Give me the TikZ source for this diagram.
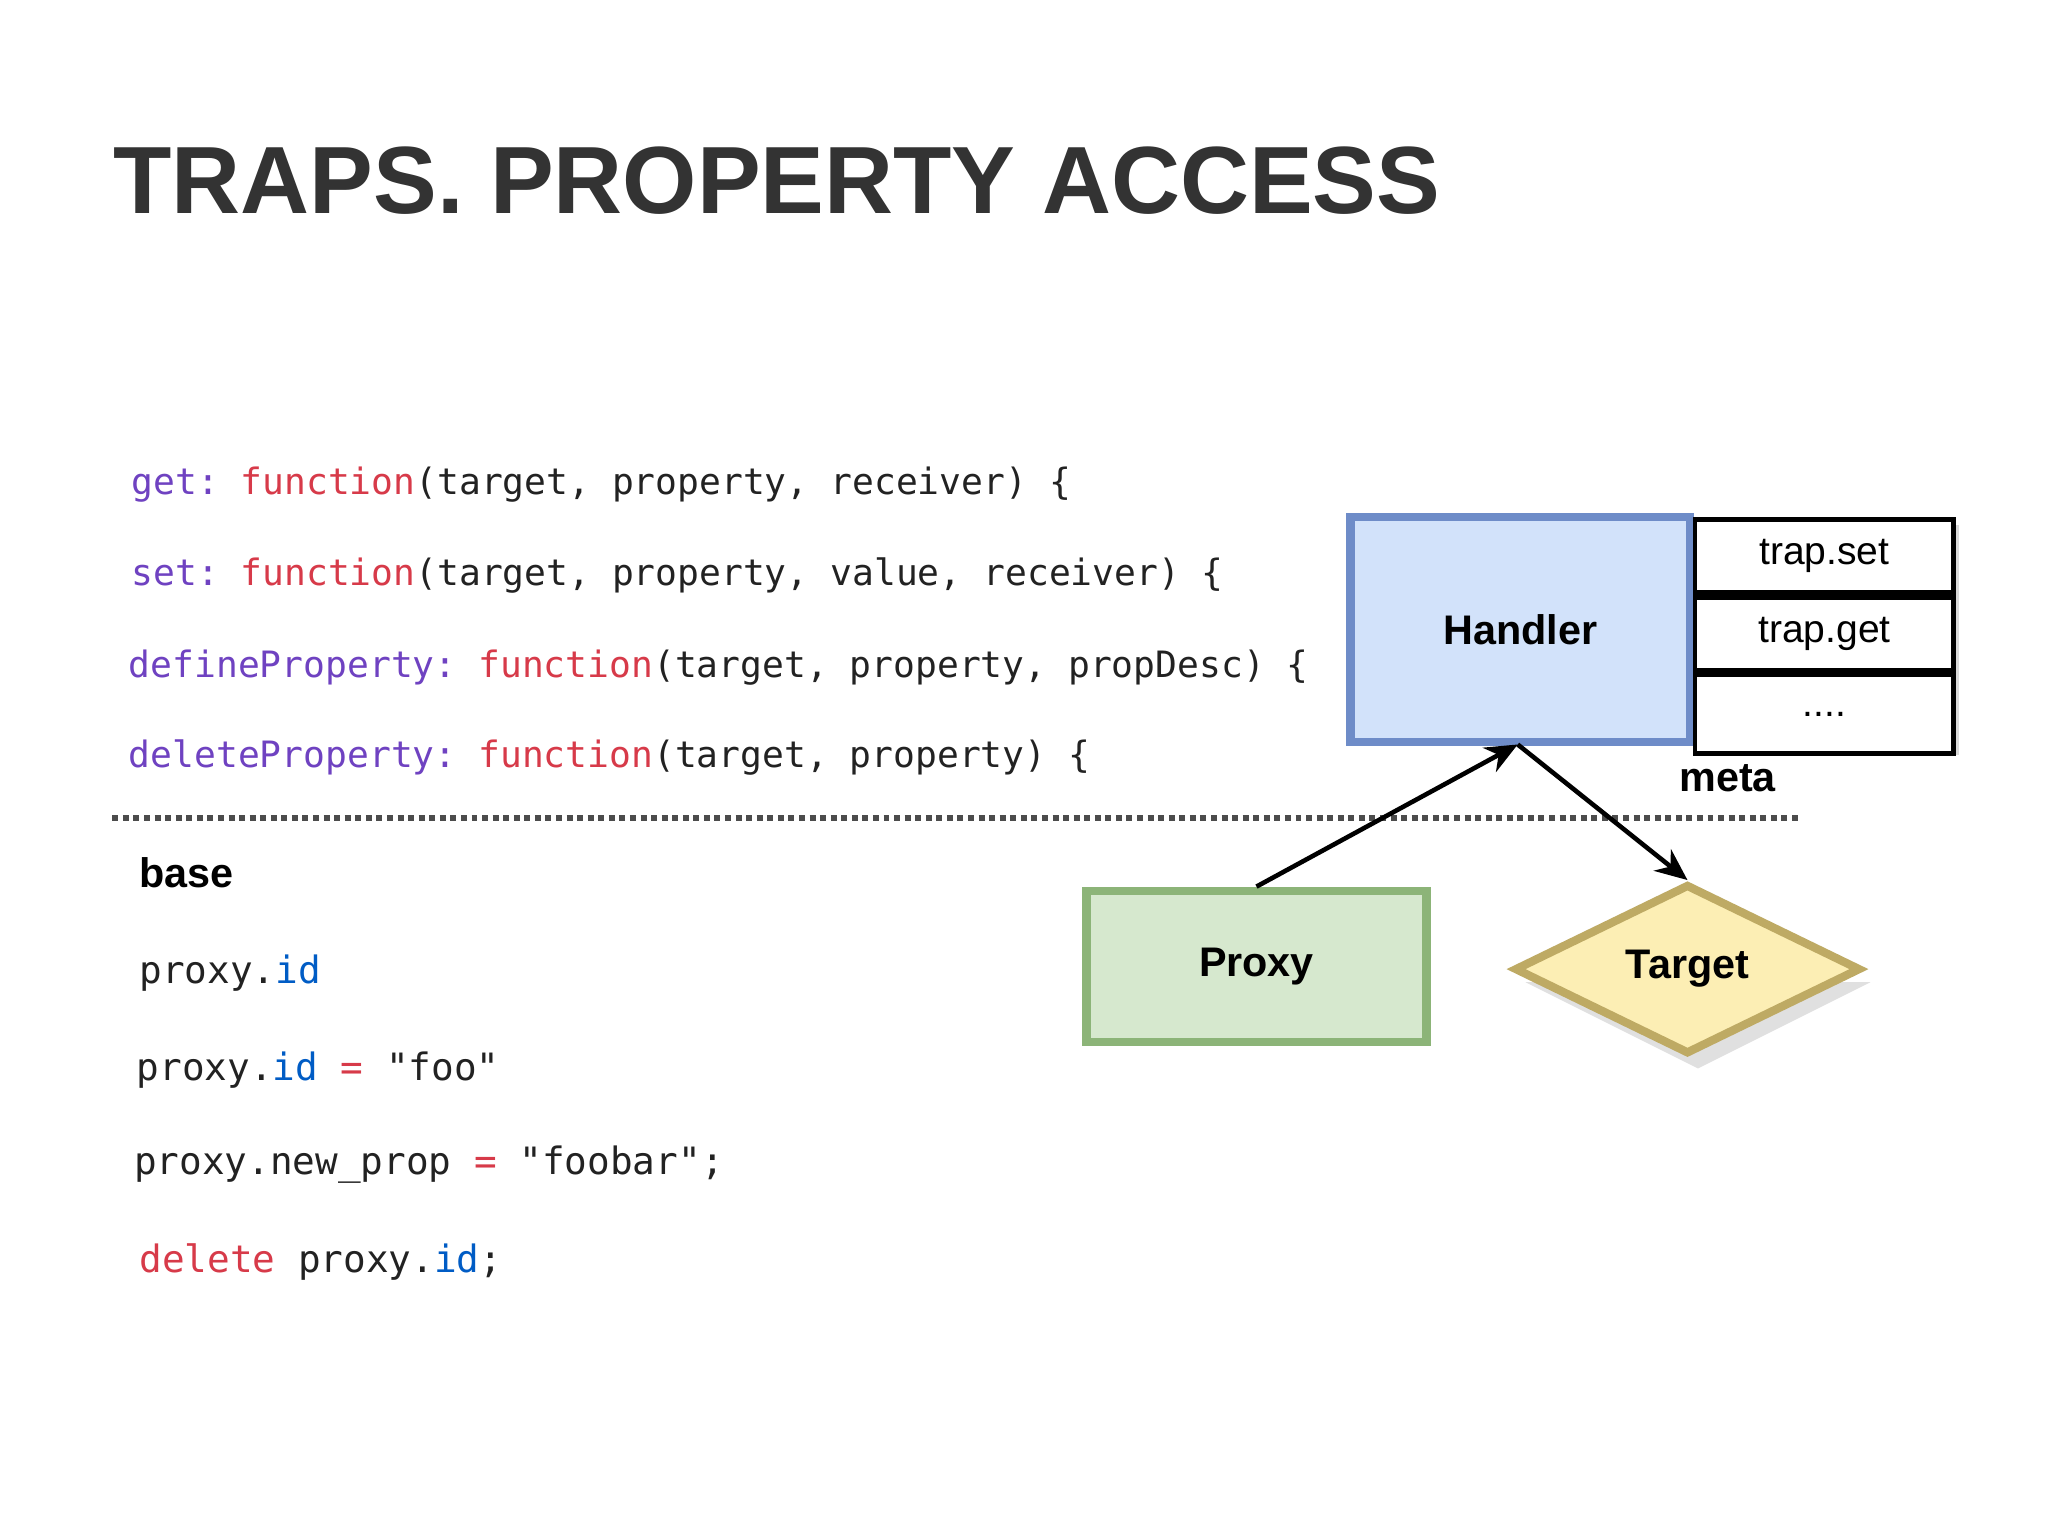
\documentclass[tikz,border=0pt]{standalone}
\usepackage{fontspec}
\setmainfont{Liberation Sans}
\setmonofont{DejaVu Sans Mono}
\usetikzlibrary{shapes.geometric,arrows.meta}
\definecolor{kw}{HTML}{6F42C1}
\definecolor{fn}{HTML}{D73A49}
\definecolor{idc}{HTML}{005CC5}
\definecolor{tc}{HTML}{222222}
\tikzset{
 code/.style={anchor=west,font=\ttfamily\fontsize{7.9pt}{9pt}\selectfont,text=tc,inner sep=0pt},
 codeb/.style={code,font=\ttfamily\fontsize{8.2pt}{9pt}\selectfont},
 lbl/.style={font=\bfseries\fontsize{9pt}{10pt}\selectfont,text=black},
 slot/.style={draw=black,line width=1pt,minimum width=1.98cm,minimum height=0.56cm,font=\fontsize{8.5pt}{10pt}\selectfont,inner sep=0pt},
 arr/.style={-{Stealth[length=7pt,width=6pt]},line width=1pt}
}
\begin{document}
\begin{tikzpicture}[x=0.01cm,y=-0.01cm]
\useasboundingbox[fill=white] (0,0) rectangle (1568,1176);
\node[anchor=west,font=\bfseries\fontsize{20.8pt}{24pt}\selectfont,text=black!80,inner sep=0pt] (title) at (86,138) {TRAPS. PROPERTY ACCESS};
\node[code] (c1) at (100,371) {\textcolor{kw}{get:} \textcolor{fn}{function}(target, property, receiver) \{};
\node[code] (c2) at (100,441) {\textcolor{kw}{set:} \textcolor{fn}{function}(target, property, value, receiver) \{};
\node[code] (c3) at (98,511) {\textcolor{kw}{defineProperty:} \textcolor{fn}{function}(target, property, propDesc) \{};
\node[code] (c4) at (98,580) {\textcolor{kw}{deleteProperty:} \textcolor{fn}{function}(target, property) \{};
\draw[densely dotted,line width=1.3pt,black!70] (86,626) -- (1378,626);
\node[anchor=west,lbl,inner sep=0pt] (base) at (106,668) {base};
\node[anchor=west,lbl,inner sep=0pt] (meta) at (1285,596) {meta};
\node[codeb] (p1) at (106,745) {proxy.\textcolor{idc}{id}};
\node[codeb] (p2) at (104,819) {proxy.\textcolor{idc}{id} \textcolor{fn}{=} "foo"};
\node[codeb] (p3) at (102,892) {proxy.new\_prop \textcolor{fn}{=} "foobar";};
\node[codeb] (p4) at (106,966) {\textcolor{fn}{delete} proxy.\textcolor{idc}{id};};
% handler
\fill[black!15] (1300,402) rectangle (1500,578);
\node[draw={rgb,255:red,110;green,140;blue,200},fill={rgb,255:red,210;green,226;blue,250},line width=1.8pt,minimum width=2.6cm,minimum height=1.72cm,lbl] (h) at (1164,482) {Handler};
\node[slot,fill=white,anchor=north west] (s1) at (1296,396) {trap.set};
\node[slot,fill=white,anchor=north] (s2) at (s1.south) {trap.get};
\node[slot,fill=white,anchor=north,minimum height=0.6cm] (s3) at (s2.south) {....};
% proxy
\node[draw={rgb,255:red,140;green,180;blue,120},fill={rgb,255:red,214;green,232;blue,206},line width=1.8pt,minimum width=2.6cm,minimum height=1.16cm,lbl] (px) at (962,740) {Proxy};
% target
\fill[black!12] (1300,752) -- (1432,752) -- (1300,818) -- (1168,752) -- cycle;
\node[diamond,aspect=2.1,draw={rgb,255:red,190;green,170;blue,100},fill={rgb,255:red,252;green,238;blue,180},line width=1.8pt,minimum width=2.65cm,minimum height=1.3cm,inner sep=0pt,lbl] (tg) at (1292,742) {Target};
\coordinate (hb) at (1162,570);
\draw[arr] (px.north) -- (hb);
\draw[arr] (hb) -- (tg.north);
\end{tikzpicture}
\end{document}
